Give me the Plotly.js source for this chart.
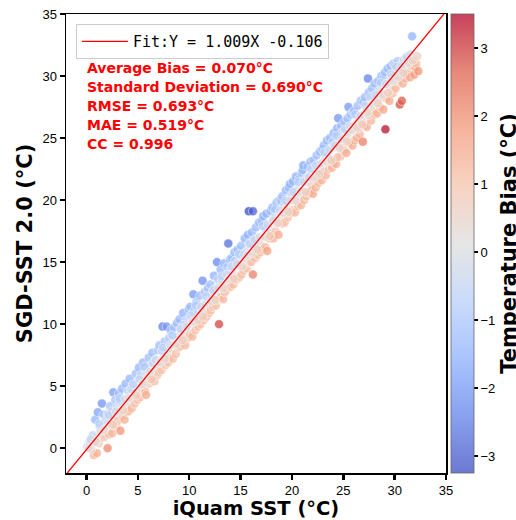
<!DOCTYPE html>
<html><head><meta charset="utf-8">
<script src="https://cdn.plot.ly/plotly-3.0.1.min.js"></script>
<style>body{margin:0;background:#fff}#chart{width:516px;height:520px}</style>
</head><body><div id="chart"></div>
<script>
// iQuam SST (x) and SGD-SST 2.0 (y), degC — outer band points
const iquam = [
 0.05,0.3,0.6,0.7,1.0,0.45,0.85,0.2,
 0.85,1.1,1.5,1.3,1.2,1.4,1.55,1.65,1.75,1.85,1.95,1.35,
 2.05,2.1,2.2,2.3,2.4,2.5,2.6,2.7,2.8,2.9,2.45,2.95,
 3.05,3.15,3.3,3.35,3.45,3.5,3.6,3.7,3.8,3.9,3.25,3.95,
 4.05,4.1,4.2,4.3,4.4,4.5,4.6,4.7,4.8,4.9,4.35,4.95,
 5.05,5.1,5.2,5.3,5.4,5.5,5.6,5.7,5.8,5.9,5.25,5.95,
 6.05,6.1,6.2,6.3,6.4,6.5,6.6,6.7,6.8,6.9,6.45,6.95,
 7.05,7.1,7.2,7.3,7.4,7.5,7.6,7.7,7.8,7.9,7.35,7.95,
 8.05,8.1,8.2,8.3,8.4,8.5,8.6,8.7,8.8,8.9,8.45,8.95,
 9.05,9.1,9.2,9.3,9.4,9.5,9.6,9.7,9.8,9.9,9.45,9.95,
 10.05,10.1,10.2,10.3,10.4,10.5,10.6,10.7,10.8,10.9,10.45,10.95,
 11.05,11.1,11.2,11.3,11.4,11.5,11.6,11.7,11.8,11.9,11.45,11.95,
 12.05,12.1,12.2,12.3,12.4,12.5,12.6,12.7,12.8,12.9,12.45,12.95,
 13.05,13.1,13.2,13.3,13.4,13.5,13.6,13.7,13.8,13.9,13.45,13.95,
 14.05,14.1,14.2,14.3,14.4,14.5,14.6,14.7,14.8,14.9,14.45,14.95,
 15.05,15.1,15.2,15.3,15.4,15.5,15.6,15.7,15.8,15.9,15.45,15.95,
 16.05,16.1,16.2,16.2,16.3,16.4,16.5,16.6,16.7,16.8,16.9,16.45,16.95,
 17.05,17.1,17.2,17.3,17.4,17.5,17.6,17.7,17.8,17.9,17.45,17.95,
 18.05,18.1,18.2,18.3,18.4,18.5,18.6,18.7,18.8,18.9,18.45,18.95,
 19.05,19.1,19.2,19.3,19.4,19.5,19.6,19.7,19.8,19.9,19.45,19.95,
 20.05,20.1,20.2,20.3,20.4,20.5,20.6,20.7,20.8,20.9,20.45,20.95,
 21.05,21.1,21.2,21.3,21.4,21.5,21.6,21.7,21.8,21.9,21.45,21.95,
 22.05,22.1,22.2,22.3,22.4,22.5,22.6,22.7,22.8,22.9,22.45,22.95,
 23.05,23.1,23.2,23.3,23.4,23.5,23.6,23.7,23.8,23.9,23.45,23.95,
 24.05,24.1,24.2,24.3,24.5,24.4,24.6,24.7,24.8,24.9,24.45,24.95,
 25.05,25.1,25.2,25.3,25.5,25.4,25.6,25.7,25.8,25.9,25.45,25.95,
 26.05,26.1,26.2,26.3,26.4,26.5,26.6,26.7,26.9,26.8,26.45,26.95,
 27.05,27.1,27.2,27.4,27.3,27.5,27.6,27.7,27.8,27.9,27.45,27.95,
 28.05,28.1,28.2,28.3,28.4,28.5,28.6,28.7,28.8,28.9,28.45,28.95,
 29.05,29.1,29.2,29.3,29.4,29.5,29.6,29.7,29.8,29.9,29.45,29.95,
 30.05,30.1,30.2,30.3,30.5,30.7,30.4,30.6,30.8,30.9,30.45,30.95,
 31.05,31.1,31.2,31.3,31.4,31.5,31.7,31.6,31.8,31.9,32.0,
 32.1,32.3
];
const sgd = [
 0.1,0.5,1.05,-0.55,-0.4,-0.1,0.6,0.0,
 2.3,2.9,3.6,1.7,0.4,0.8,1.1,2.7,0.9,2.2,1.5,1.35,
 0.0,2.8,1.1,3.4,1.9,1.2,4.5,2.4,3.9,1.8,2.95,3.3,
 2.2,4.4,1.4,3.0,4.8,2.6,3.9,2.3,5.2,3.5,3.8,2.9,
 4.6,3.0,5.6,4.0,3.2,5.1,4.4,3.6,6.0,4.9,4.75,3.9,
 5.4,6.5,4.1,5.9,4.7,6.9,5.3,4.6,4.3,6.2,5.1,5.7,
 7.3,5.2,6.6,5.5,7.7,6.1,5.4,7.1,6.4,5.9,6.85,7.9,
 6.1,8.3,7.0,6.3,9.8,7.4,8.6,6.7,9.8,7.9,7.85,6.9,
 8.9,7.3,9.5,8.0,7.2,9.7,8.7,7.6,10.1,9.0,8.35,8.1,
 10.4,8.2,9.6,8.5,10.9,9.1,8.3,10.3,9.7,8.9,9.95,11.2,
 9.2,11.4,10.0,9.0,12.4,10.6,9.5,11.8,10.9,9.8,11.05,10.3,
 12.3,10.0,11.2,13.5,10.3,12.6,11.7,10.6,12.9,11.5,11.05,10.9,
 13.2,11.1,12.4,11.4,13.9,12.8,11.5,15.0,13.6,10.0,12.0,12.2,
 14.4,12.2,13.4,12.0,14.9,13.8,12.7,14.6,16.5,13.1,12.55,15.2,
 13.0,15.3,14.2,13.2,15.8,14.7,13.6,16.0,14.9,13.8,15.1,15.6,
 16.3,14.0,15.4,14.3,16.9,15.8,14.5,17.2,19.1,15.0,15.25,16.6,
 15.0,17.4,19.1,14.0,16.3,15.3,17.8,16.9,15.6,18.2,16.4,16.75,15.8,
 18.3,16.0,18.7,17.2,16.2,18.9,15.9,17.8,16.9,19.1,17.65,17.3,
 17.1,19.4,16.9,18.6,17.5,19.8,18.3,17.2,20.0,18.7,18.15,19.9,
 20.3,18.1,19.5,18.2,20.8,19.9,18.6,21.0,21.3,19.0,19.25,20.4,
 19.2,21.5,20.1,19.0,21.9,20.8,19.5,21.7,20.3,19.6,20.55,22.2,
 22.4,22.8,20.0,21.5,20.3,22.7,21.9,20.6,23.1,21.2,21.75,20.8,
 20.5,23.2,22.0,21.0,23.6,22.8,21.4,23.9,22.5,21.6,22.25,24.1,
 22.3,24.4,23.3,22.0,24.8,23.9,22.5,25.0,23.2,22.6,23.65,24.7,
 25.4,23.0,24.3,22.9,26.6,25.8,24.9,23.5,26.0,24.2,23.45,25.5,
 24.0,26.3,25.1,23.8,27.5,26.6,24.6,26.9,25.6,24.4,25.35,27.1,
 27.2,24.8,26.1,25.0,27.6,26.6,25.3,28.0,24.7,26.4,25.75,27.9,
 26.0,28.3,27.1,29.8,25.9,28.7,27.6,26.4,29.0,27.2,26.85,28.4,
 29.4,26.9,28.3,27.0,29.6,28.8,27.5,30.0,28.4,27.3,28.05,29.9,
 30.3,25.7,28.2,30.6,29.5,28.0,30.8,29.8,28.6,31.0,29.1,28.9,
 30.9,29.0,30.3,31.2,27.7,28.0,29.6,30.9,29.4,31.3,30.45,30.2,
 29.8,30.6,31.4,30.2,31.0,29.9,33.2,30.8,31.2,30.1,30.7,
 31.0,30.4
];
// points close to the 1:1 line (grey core of the band)
const iquamCore = [
 0.4,0.9,1.25,1.7,2.15,2.6,2.85,3.2,3.55,3.75,4.15,4.55,4.85,5.15,5.45,5.65,
 6.15,6.35,6.75,7.15,7.45,7.65,8.15,8.35,8.75,9.15,9.35,9.75,10.15,10.35,10.65,10.85,
 11.15,11.35,11.65,12.15,12.35,12.55,12.85,13.15,13.35,13.65,13.85,14.15,14.35,14.65,14.85,
 15.15,15.35,15.65,15.85,16.15,16.35,16.65,16.85,17.15,17.35,17.65,17.85,18.15,18.35,18.65,18.85,
 19.15,19.35,19.65,19.85,20.15,20.35,20.65,20.85,21.15,21.35,21.65,21.85,22.15,22.35,22.65,22.85,
 23.15,23.35,23.65,23.85,24.15,24.35,24.65,24.85,25.15,25.35,25.65,25.85,26.15,26.35,26.65,26.85,
 27.15,27.35,27.65,27.85,28.15,28.35,28.65,28.85,29.15,29.35,29.65,29.85,30.15,30.35,30.65,30.85,
 31.15,31.35,31.55,31.75,32.2
];
const sgdCore = [
 0.7,0.5,1.95,1.5,2.65,1.9,2.95,4.0,3.05,3.95,4.05,5.15,4.25,5.55,5.15,6.55,
 6.15,5.55,7.1,6.9,8.1,7.2,8.3,9.1,8.4,9.6,8.7,9.8,10.7,10.2,11.5,10.3,
 11.4,10.6,12.25,11.85,12.75,11.95,12.95,13.85,12.9,14.0,13.65,14.65,13.65,14.85,15.65,
 14.65,15.65,15.55,16.45,15.75,16.8,16.0,17.0,17.9,17.05,18.05,17.1,18.35,19.25,18.15,19.15,
 18.95,19.95,19.05,19.95,20.65,19.95,21.45,20.7,21.5,20.65,21.85,22.5,21.8,22.8,22.1,22.95,
 23.85,23.1,24.05,23.2,24.4,25.2,24.2,24.9,25.7,24.75,25.95,25.65,26.9,25.85,26.8,26.1,
 27.6,27.05,28.3,27.75,28.5,27.8,29.45,28.5,29.35,28.65,30.15,29.6,30.75,29.9,30.75,30.25,
 31.55,31.05,31.75,31.25,31.6
];
const fitSlope = 1.009;
const fitIntercept = -0.106;
const fitLabel = "Fit:Y = 1.009X -0.106";
const statLines = [
  "Average Bias = 0.070°C",
  "Standard Deviation = 0.690°C",
  "RMSE = 0.693°C",
  "MAE = 0.519°C",
  "CC = 0.996"
];
const axisTicks = [0, 5, 10, 15, 20, 25, 30, 35];
const biasTicks = [-3, -2, -1, 0, 1, 2, 3];

const xs = iquam.concat(iquamCore);
const ys = sgd.concat(sgdCore);
const bias = xs.map((x, i) => x - ys[i]);
const a = 0.75;
const cw = [[59,76,192],[98,130,234],[141,176,254],[184,208,249],[221,221,221],[245,196,173],[244,154,123],[222,96,77],[180,4,38]];
const colorscale = cw.map((c, i) => [i / (cw.length - 1), `rgba(${c[0]},${c[1]},${c[2]},${a})`]);

const xr = [-2, 35];
const scatter = {
  x: xs, y: ys, type: 'scatter', mode: 'markers', showlegend: false,
  marker: {
    size: 9, color: bias, colorscale: colorscale, cmin: -3.25, cmax: 3.5,
    line: {color: 'rgba(255,255,255,0.8)', width: 0.6},
    colorbar: {
      x: 1.0132, xanchor: 'left', xpad: 0, y: 0.5, yanchor: 'middle', ypad: 0,
      len: 1, lenmode: 'fraction',
      thickness: 23, outlinecolor: '#666', outlinewidth: 0.8,
      tickvals: biasTicks, ticks: 'outside', ticklen: 4, tickwidth: 2, tickcolor: '#000',
      tickfont: {family: 'Liberation Sans, Arial', size: 13, color: '#000'},
      title: {text: 'Temperature Bias (°C)', side: 'right',
              font: {family: 'DejaVu Sans', size: 21, weight: 'bold', color: '#000'}}
    }
  }
};
const fit = {
  x: xr, y: xr.map(v => fitSlope * v + fitIntercept), type: 'scatter', mode: 'lines',
  name: fitLabel, line: {color: '#ff0000', width: 1.3}, showlegend: true
};

const annotations = statLines.map((t, i) => ({
  text: t, xref: 'paper', yref: 'paper', x: 0.05, xanchor: 'left',
  y: 0.883 - i * 0.0417, yanchor: 'middle', showarrow: false,
  font: {family: 'DejaVu Sans', size: 14, weight: 'bold', color: '#ff0000'}
}));

const axCommon = {
  range: xr, tickvals: axisTicks, ticks: 'outside', ticklen: 5, tickwidth: 2.5, tickcolor: '#000',
  showline: true, linewidth: 1.5, linecolor: '#000', mirror: true, showgrid: false, zeroline: false,
  tickfont: {family: 'Liberation Sans, Arial', size: 13, color: '#000'}
};

const layout = {
  width: 516, height: 520,
  margin: {l: 66, r: 70, t: 14, b: 47, autoexpand: false},
  paper_bgcolor: '#fff', plot_bgcolor: '#fff',
  xaxis: Object.assign({}, axCommon, {
    title: {text: 'iQuam SST (°C)', standoff: 0, font: {family: 'DejaVu Sans', size: 19.5, weight: 'bold', color: '#000'}}
  }),
  yaxis: Object.assign({}, axCommon, {
    title: {text: 'SGD-SST 2.0 (°C)', standoff: 4, font: {family: 'DejaVu Sans', size: 21, weight: 'bold', color: '#000'}}
  }),
  legend: {
    x: 0.026, y: 0.978, xanchor: 'left', yanchor: 'top',
    bgcolor: '#fff', bordercolor: '#ccc', borderwidth: 1,
    font: {family: 'DejaVu Sans Mono', size: 15, color: '#000'}, itemwidth: 46
  },
  annotations: annotations,
  showlegend: true
};

Plotly.newPlot('chart', [scatter, fit], layout, {displayModeBar: false, staticPlot: true});
</script>
</body></html>
